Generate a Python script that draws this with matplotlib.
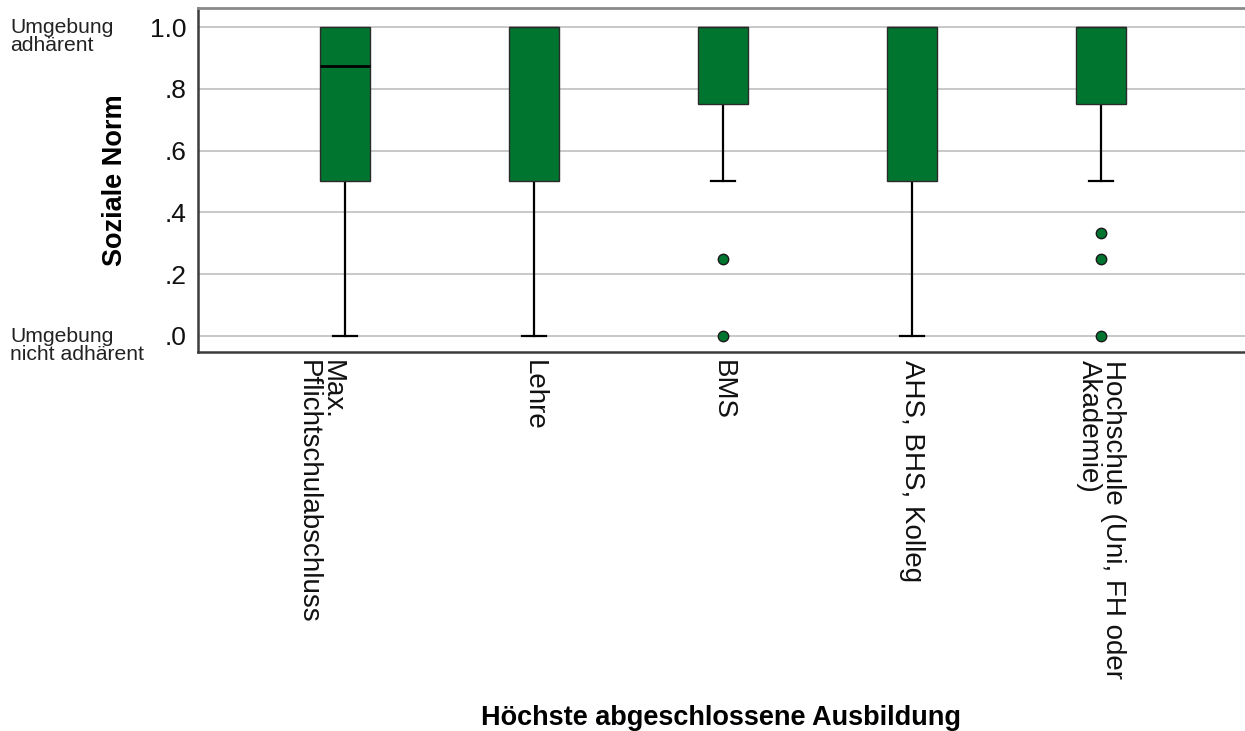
import matplotlib
matplotlib.use("Agg")
import matplotlib.pyplot as plt
import matplotlib.transforms as mtransforms

plt.rcParams['font.family'] = ['Liberation Sans', 'DejaVu Sans']

# Education categories and box statistics for "Soziale Norm"
categories = ["Max.\nPflichtschulabschluss", "Lehre", "BMS",
              "AHS, BHS, Kolleg", "Hochschule (Uni, FH oder\nAkademie)"]
q1 = [0.5, 0.5, 0.75, 0.5, 0.75]
median = [0.875, 1.0, 1.0, 1.0, 1.0]
q3 = [1.0, 1.0, 1.0, 1.0, 1.0]
whisker_low = [0.0, 0.0, 0.5, 0.0, 0.5]
whisker_high = [1.0, 1.0, 1.0, 1.0, 1.0]
outliers = [[], [], [0.25, 0.0], [], [1 / 3, 0.25, 0.0]]

y_ticks = [0.0, 0.2, 0.4, 0.6, 0.8, 1.0]
y_tick_labels = [".0", ".2", ".4", ".6", ".8", "1.0"]
end_labels = {1.0: "Umgebung\nadhärent", 0.0: "Umgebung\nnicht adhärent"}

green = "#00752f"

W, H = 1245, 731
fig = plt.figure(figsize=(W / 100, H / 100), dpi=100)
ax = fig.add_axes([198 / W, 1 - 352 / H, 1 - 198 / W, (352 - 8) / H])

stats = []
for i, cat in enumerate(categories):
    stats.append(dict(label=cat, q1=q1[i], med=median[i], q3=q3[i],
                      whislo=whisker_low[i], whishi=whisker_high[i],
                      fliers=outliers[i]))

positions = list(range(len(categories)))
art = ax.bxp(stats, positions=positions, widths=0.265, capwidths=0.127,
             patch_artist=True, showfliers=True,
             boxprops=dict(facecolor=green, edgecolor="#2a2a2a", linewidth=1.0, zorder=3),
             medianprops=dict(color="black", linewidth=2.0, zorder=4),
             whiskerprops=dict(color="black", linewidth=1.6, zorder=2),
             capprops=dict(color="black", linewidth=1.6, zorder=2),
             flierprops=dict(marker="o", markerfacecolor=green, markeredgecolor="#1a1a1a",
                             markersize=7.5, markeredgewidth=1.0, linestyle="none", zorder=5))

# upper caps coincide with the box top; keep only the lower ones visible
for i, cap in enumerate(art["caps"]):
    if i % 2 == 1 and whisker_high[i // 2] == q3[i // 2]:
        cap.set_visible(False)
# a median sitting on the box top merges with the box edge
for i, med_line in enumerate(art["medians"]):
    if median[i] == q3[i]:
        med_line.set_linewidth(1.0)
        med_line.set_color("#2a2a2a")

ax.set_ylim(-0.0518, 1.0615)
ax.set_xlim(-0.778, 4.762)

ax.set_yticks(y_ticks)
ax.set_yticklabels(y_tick_labels, fontsize=19, color="#111111")
ax.yaxis.grid(True, color="#c8c8c8", linewidth=1.4, zorder=0)
ax.set_axisbelow(True)
ax.tick_params(axis="y", length=0, pad=8)
ax.tick_params(axis="x", length=0, pad=6)

ax.set_xticks(positions)
ax.set_xticklabels(categories, rotation=270, fontsize=20, va="top",
                   ha="center", multialignment="left", linespacing=0.92,
                   color="#111111")
ax.get_xticklabels()[0].set_ha("right")
for lab in ax.get_xticklabels():
    lab.set_multialignment("left")

for side in ("left", "bottom"):
    ax.spines[side].set_color("#3c3c3c")
    ax.spines[side].set_linewidth(1.8)
ax.spines["top"].set_color("#8a8a8a")
ax.spines["top"].set_linewidth(2.0)
ax.spines["right"].set_visible(False)

fig.text(115 / W, 1 - 180 / H, "Soziale Norm", fontsize=19.5, fontweight="bold",
         rotation=90, ha="center", va="center")
fig.text(721 / W, 1 - 718 / H, "Höchste abgeschlossene Ausbildung", fontsize=19.5,
         fontweight="bold", ha="center", va="center")

trans = mtransforms.blended_transform_factory(fig.transFigure, ax.transData)
for val, txt in end_labels.items():
    ax.text(10 / W, val - 0.03, txt, transform=trans, fontsize=15.2,
            ha="left", va="center", linespacing=0.9, color="#222222")

fig.savefig("out.png", dpi=100)
